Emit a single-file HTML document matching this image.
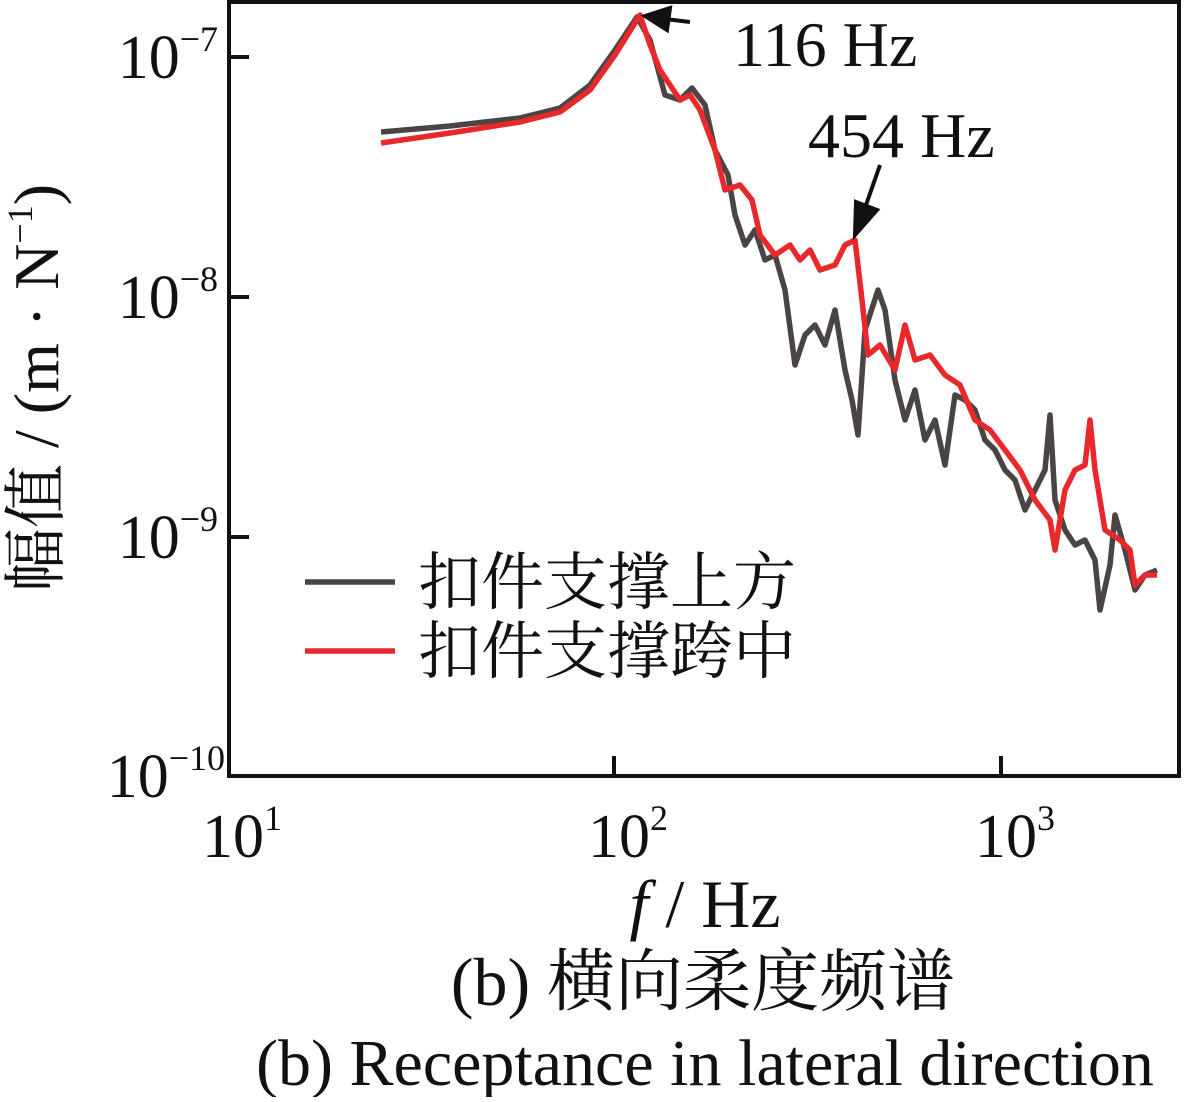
<!DOCTYPE html>
<html><head><meta charset="utf-8"><style>body{margin:0;background:#fff}</style></head><body>
<svg width="1185" height="1097" viewBox="0 0 1185 1097" xmlns="http://www.w3.org/2000/svg" font-family="Liberation Serif, Noto Serif CJK SC, serif">
<rect x="229" y="2" width="950" height="774" fill="none" stroke="#111" stroke-width="4"/>
<g stroke="#111" stroke-width="4">
<line x1="614" y1="776" x2="614" y2="756"/><line x1="1001" y1="776" x2="1001" y2="756"/>
<line x1="229" y1="57" x2="249" y2="57"/><line x1="229" y1="297" x2="249" y2="297"/><line x1="229" y1="537" x2="249" y2="537"/>
</g>
<g font-size="62" fill="#111" text-anchor="end">
<text x="218" y="78">10<tspan font-size="36" dy="-27">−7</tspan></text>
<text x="218" y="318">10<tspan font-size="36" dy="-27">−8</tspan></text>
<text x="218" y="558">10<tspan font-size="36" dy="-27">−9</tspan></text>
<text x="225" y="797">10<tspan font-size="36" dy="-27">−10</tspan></text>
</g>
<g font-size="62" fill="#111" text-anchor="middle">
<text x="242" y="857">10<tspan font-size="36" dy="-27">1</tspan></text>
<text x="628" y="857">10<tspan font-size="36" dy="-27">2</tspan></text>
<text x="1015" y="857">10<tspan font-size="36" dy="-27">3</tspan></text>
<text x="705" y="927" font-size="68"><tspan font-style="italic">f</tspan> / Hz</text>
<text x="703" y="1005" font-size="68">(b)  横向柔度频谱</text>
<text x="705" y="1085" font-size="66">(b)  Receptance in lateral direction</text>
</g>
<text transform="translate(58,388) rotate(-90)" font-size="64" text-anchor="middle" fill="#111">幅值 / (m · N<tspan font-size="36" dy="-26">−1</tspan><tspan dy="26">)</tspan></text>
<polyline fill="none" stroke="#4a4543" stroke-width="5.5" stroke-linejoin="round" points="381,132 450,126 520,118 560,108 590,85 615,50 637,17 650,40 665,95 680,100 692,88 705,105 715,150 728,175 735,215 745,245 755,230 765,260 775,255 785,290 795,365 805,335 815,325 825,345 835,310 845,370 852,400 858,435 865,330 878,290 885,310 895,380 905,420 915,390 925,440 935,420 945,465 955,395 965,400 975,410 985,440 995,450 1005,470 1015,480 1025,510 1035,490 1045,470 1050,415 1055,500 1065,530 1075,545 1085,540 1095,560 1100,610 1110,565 1115,515 1125,550 1135,590 1145,575 1157,570"/>
<polyline fill="none" stroke="#e8282a" stroke-width="5.5" stroke-linejoin="round" points="381,143 450,133 520,122 560,112 590,90 615,55 640,15 650,45 660,70 670,85 680,100 690,95 700,110 715,150 725,190 740,185 752,200 760,235 775,255 790,245 800,260 810,250 820,270 835,265 845,245 855,240 862,300 868,355 880,345 895,370 905,325 915,360 930,355 945,375 960,385 975,420 990,430 1005,450 1020,470 1035,500 1050,520 1055,550 1065,490 1075,470 1085,465 1090,420 1095,470 1105,530 1120,540 1130,550 1135,585 1145,575 1157,575"/>
<g stroke="#111" stroke-width="4" fill="#111">
<line x1="690" y1="22" x2="665" y2="19"/><polygon points="645,16 670,8 667,30"/>
<line x1="880" y1="165" x2="866" y2="205"/><polygon points="855,235 856,202 877,210"/>
</g>
<g font-size="64" fill="#111">
<text x="733" y="66">116 Hz</text>
<text x="808" y="157">454 Hz</text>
</g>
<line x1="305" y1="582" x2="395" y2="582" stroke="#4a4543" stroke-width="5.5"/>
<line x1="305" y1="651" x2="395" y2="651" stroke="#e8282a" stroke-width="5.5"/>
<g font-size="63" fill="#111" font-family="Noto Serif CJK SC, serif">
<text x="418" y="604">扣件支撑上方</text>
<text x="418" y="673">扣件支撑跨中</text>
</g>
</svg>
</body></html>
